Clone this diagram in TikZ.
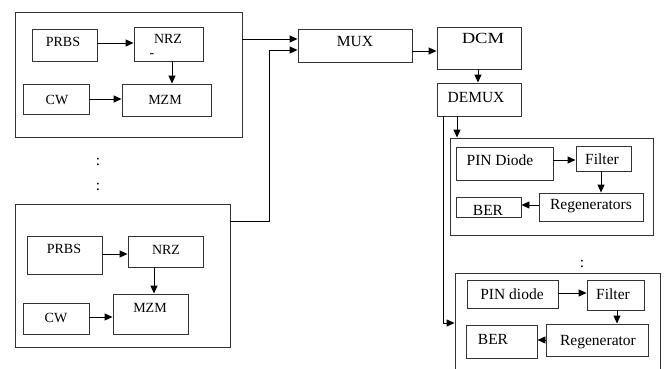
\documentclass[tikz,border=0pt]{standalone}
\usepackage{fontspec}
\setmainfont{Liberation Serif}
\usetikzlibrary{arrows.meta,calc}
\begin{document}
\begin{tikzpicture}[x=1pt,y=-1pt,
  box/.style={draw=black!80,line width=0.9pt,inner sep=0pt,rectangle},
  lbl/.style={inner sep=0pt,anchor=base},
  lf/.style={font=\fontsize{14}{16}\selectfont},
  rf/.style={font=\fontsize{15.5}{18}\selectfont},
  arr/.style={line width=0.9pt,-{Triangle[length=8pt,width=7pt]}},
  ln/.style={line width=0.9pt}]
\useasboundingbox (0,0) rectangle (666,369);
\clip (0,0) rectangle (666,369);
% left group 1
\node[box,minimum width=227pt,minimum height=125pt] (L1) at (128.5,74.5) {};
\node[box,minimum width=65pt,minimum height=32pt] (prbsA) at (64.5,45) {};
\node[box,minimum width=69pt,minimum height=34pt] (nrzA) at (168.5,44) {};
\node[box,minimum width=89pt,minimum height=32pt] (mzmA) at (166.5,100) {};
\node[box,minimum width=66pt,minimum height=30pt] (cwA) at (56,99) {};
\node[lbl,lf] (tprbsA) at (63,47) {PRBS};
\node[lbl,lf] (tnrzA) at (168,44) {NRZ};
\node[lbl,lf] (tdashA) at (152,57) {-};
\node[lbl,lf] (tmzmA) at (165,104) {MZM};
\node[lbl,lf] (tcwA) at (57,104) {CW};
% dots
\node[lbl,rf] (dot1) at (98,165) {:};
\node[lbl,rf] (dot2) at (98,190) {:};
% left group 2
\node[box,minimum width=215pt,minimum height=143pt] (L2) at (122.5,275.5) {};
\node[box,minimum width=75pt,minimum height=38pt] (prbsB) at (64.5,255) {};
\node[box,minimum width=75pt,minimum height=31pt] (nrzB) at (165.5,251.5) {};
\node[box,minimum width=75pt,minimum height=40pt] (mzmB) at (150.5,314) {};
\node[box,minimum width=66pt,minimum height=31pt] (cwB) at (56,318.5) {};
\node[lbl,lf] (tprbsB) at (64,253) {PRBS};
\node[lbl,lf] (tnrzB) at (166,254) {NRZ};
\node[lbl,lf] (tmzmB) at (150,312) {MZM};
\node[lbl,lf] (tcwB) at (56,322) {CW};
% center
\node[box,minimum width=114pt,minimum height=33pt] (mux) at (355,45.5) {};
\node[box,minimum width=84pt,minimum height=42pt] (dcm) at (479,48) {};
\node[box,minimum width=84pt,minimum height=33pt] (demux) at (479,99.5) {};
\node[lbl,rf] (tmux) at (355,47) {MUX};
\node[lbl,rf,xscale=1.2] (tdcm) at (483,44) {DCM};
\node[lbl,rf] (tdemux) at (476,102) {DEMUX};
% right group 1
\node[box,minimum width=203pt,minimum height=97pt] (R1) at (551.5,186.5) {};
\node[box,minimum width=97pt,minimum height=33pt] (pinA) at (504.5,163.5) {};
\node[box,minimum width=55pt,minimum height=25pt] (filtA) at (603.5,158.5) {};
\node[box,minimum width=104pt,minimum height=28pt] (regA) at (591,207) {};
\node[box,minimum width=65pt,minimum height=20pt] (berA) at (488.5,207) {};
\node[lbl,rf] (tpinA) at (500,165) {PIN Diode};
\node[lbl,rf] (tfiltA) at (602,164) {Filter};
\node[lbl,rf] (tregA) at (591,209) {Regenerators};
\node[lbl,rf] (tberA) at (488,215) {BER};
% right group 2
\node[lbl,rf] (dot3) at (582,267) {:};
\node[box,minimum width=205pt,minimum height=117pt] (R2) at (557.5,331.5) {};
\node[box,minimum width=91pt,minimum height=28pt] (pinB) at (512.5,294) {};
\node[box,minimum width=57pt,minimum height=30pt] (filtB) at (615.5,295) {};
\node[box,minimum width=102pt,minimum height=32pt] (regB) at (597,340) {};
\node[box,minimum width=71pt,minimum height=33pt] (berB) at (501.5,341.5) {};
\node[lbl,rf] (tpinB) at (512,299) {PIN diode};
\node[lbl,rf] (tfiltB) at (613,299) {Filter};
\node[lbl,rf] (tregB) at (598,345) {Regenerator};
\node[lbl,rf] (tberB) at (493,344) {BER};
% connectors
\draw[arr] ([yshift=2pt]prbsA.east) -- ([yshift=2pt]prbsA.east -| nrzA.west);
\draw[arr] ([xshift=3.5pt]nrzA.south) -- ([xshift=3.5pt]nrzA.south |- mzmA.north);
\draw[arr] (cwA.east) -- (cwA.east -| mzmA.west);
\draw[arr] ([yshift=1pt]prbsB.east) -- ([yshift=1pt]prbsB.east -| nrzB.west);
\draw[arr] ([xshift=-11.5pt]nrzB.south) -- ([xshift=-11.5pt]nrzB.south |- mzmB.north);
\draw[arr] ([yshift=1.5pt]cwB.east) -- ([yshift=1.5pt]cwB.east -| mzmB.west);
\draw[arr] ([yshift=6.5pt]mux.west -| L1.east) -- ([yshift=6.5pt]mux.west);
\coordinate (j) at (269,50);
\draw[arr] ([yshift=54.5pt]L2.east) -| (j) -- ([yshift=-4.5pt]mux.west);
\draw[arr] ([yshift=-5.5pt]mux.east) -- ([yshift=-5.5pt]mux.east -| dcm.west);
\draw[arr] ([xshift=-1pt]dcm.south) -- ([xshift=-1pt]demux.north);
\draw[arr] ([xshift=-22pt]demux.south) -- ([xshift=-22pt]demux.south |- R1.north);
\draw[arr] ([xshift=-36pt]demux.south) |- ([yshift=8.5pt]R2.west);
\draw[arr] ([yshift=3.5pt]pinA.east) -- ([yshift=3.5pt]pinA.east -| filtA.west);
\draw[arr] ([xshift=-2.5pt]filtA.south) -- ([xshift=-2.5pt]filtA.south |- regA.north);
\draw[arr] ([yshift=2pt]regA.west) -- ([yshift=2pt]regA.west -| berA.east);
\draw[arr] ([yshift=1pt]pinB.east) -- ([yshift=1pt]pinB.east -| filtB.west);
\draw[arr] ([xshift=1.5pt]filtB.south) -- ([xshift=1.5pt]filtB.south |- regB.north);
\draw[arr] (regB.west) -- (regB.west -| berB.east);
\end{tikzpicture}
\end{document}
